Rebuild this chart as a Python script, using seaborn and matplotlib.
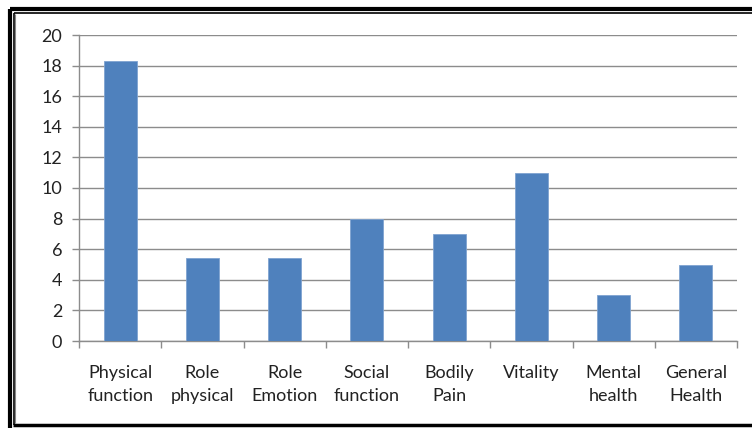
import matplotlib
matplotlib.use("Agg")
import matplotlib.pyplot as plt
import seaborn as sns
import pandas as pd
from matplotlib.lines import Line2D

categories = ["Physical\nfunction", "Role\nphysical", "Role\nEmotion", "Social\nfunction",
              "Bodily\nPain", "Vitality", "Mental\nhealth", "General\nHealth"]
values = [18.3, 5.4, 5.4, 8, 7, 11, 3, 5]
yticks = [0, 2, 4, 6, 8, 10, 12, 14, 16, 18, 20]

df = pd.DataFrame({"category": categories, "value": values})

sns.set_style("white")
plt.rcParams["font.family"] = ["Lato", "DejaVu Sans"]

fig = plt.figure(figsize=(7.52, 4.28), dpi=100)
ax = fig.add_axes([79 / 752, 1 - 341 / 428, (737 - 79) / 752, (341 - 35) / 428])

sns.barplot(data=df, x="category", y="value", color="#4F81BD", saturation=1,
            width=0.4, edgecolor="#7FA3D0", linewidth=0.6, ax=ax, zorder=3)

grid_c = "#8C8C8C"
ax.set_ylim(0, 20)
ax.set_xlim(-0.5, len(categories) - 0.5)
ax.set_yticks(yticks)
ax.yaxis.grid(True, color=grid_c, linewidth=1, zorder=0)
ax.set_axisbelow(True)
ax.set_xlabel("")
ax.set_ylabel("")

for s in ["top", "right"]:
    ax.spines[s].set_visible(False)
for s in ["left", "bottom"]:
    ax.spines[s].set_color(grid_c)
    ax.spines[s].set_linewidth(1)

ax.tick_params(axis="y", length=5, width=1, color=grid_c, pad=7, labelsize=13,
               labelcolor="#222222", direction="out", left=True)
ax.tick_params(axis="x", which="major", length=0, pad=17, labelsize=13, labelcolor="#222222")
ax.set_xticks([i + 0.5 for i in range(-1, len(categories))], minor=True)
ax.tick_params(axis="x", which="minor", length=5, width=1, color=grid_c, direction="out", bottom=True)
for t in ax.get_xticklabels():
    t.set_linespacing(1.55)

# double frame around the chart
def fline(x0, y0, x1, y1, lw, c="black"):
    fig.add_artist(Line2D([x0 / 752, x1 / 752], [1 - y0 / 428, 1 - y1 / 428],
                          transform=fig.transFigure, color=c, linewidth=lw,
                          solid_capstyle="butt"))

fline(9.5, 8.5, 760, 8.5, 3.0)
fline(9.5, 8.5, 9.5, 440, 3.0)
fline(13.5, 12.5, 760, 12.5, 1.2)
fline(13.5, 12.5, 13.5, 425, 1.2)
fline(15.5, 14, 15.5, 423, 0.8, "#888888")
fline(13, 425, 760, 425, 2.5)

fig.savefig("out.png", dpi=100)
